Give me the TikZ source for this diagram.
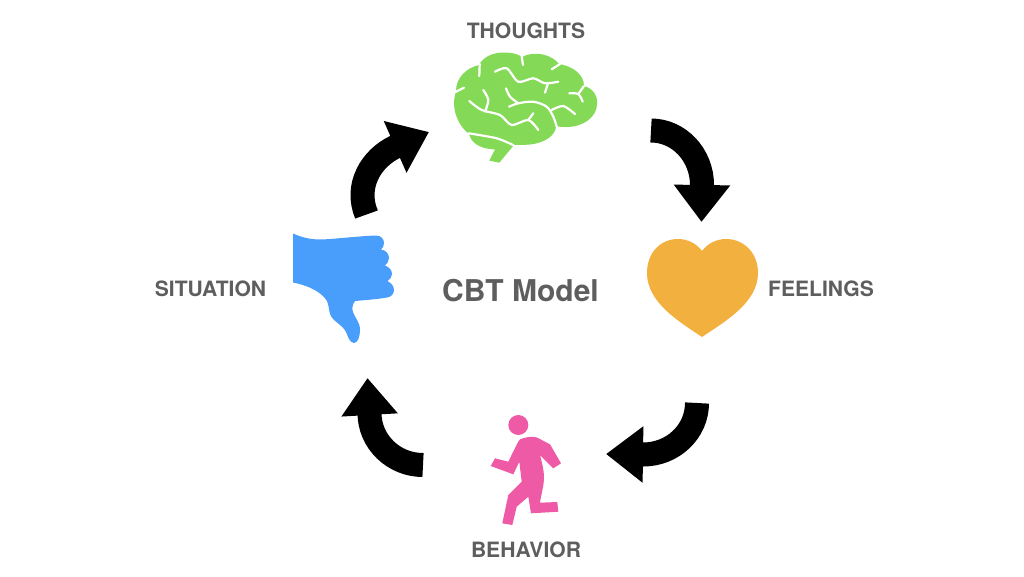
\documentclass[tikz,border=0pt]{standalone}
\usepackage{fontspec}
\setmainfont{TeX Gyre Heros}
\usepackage{xcolor}
\usepackage{tikz}
\usetikzlibrary{arrows.meta}
\definecolor{brainc}{HTML}{84D957}
\definecolor{thumbc}{HTML}{4A9EFB}
\definecolor{heartc}{HTML}{F2B13E}
\definecolor{runnerc}{HTML}{EE5AA5}
\definecolor{labelc}{HTML}{5E5E5E}

\begin{document}
\begin{tikzpicture}[
  x=1pt, y=-1pt,
  lbl/.style={font=\fontsize{21.1}{25}\selectfont\bfseries, text=labelc, inner sep=0pt},
  title/.style={font=\fontsize{30}{36}\selectfont\bfseries, text=labelc, inner sep=0pt},
  flow/.style={draw=black, line width=24pt, -{Triangle[length=37pt,width=54pt]}},
  fold/.style={draw=white, line width=2.2pt, line cap=round, line join=round}
]
\useasboundingbox (0,0) rectangle (1024,576);

%% Labels
\node[lbl] (thoughts) at (526,30.5) {THOUGHTS};
\node[lbl] (feelings) at (821,288.5) {FEELINGS};
\node[lbl] (behavior) at (526,549.5) {BEHAVIOR};
\node[lbl] (situation) at (210.5,288.5) {SITUATION};
\node[title] (model) at (520.5,290.5) {CBT Model};

%% Brain
\fill[brainc] (469,134) .. controls (461,128) and (454,116) .. (454,103)
  .. controls (454,99) and (455,95) .. (456,91)
  .. controls (456,78) and (466,68) .. (479,65)
  .. controls (483,57) and (493,52.5) .. (503,52.5)
  .. controls (512,52.5) and (518,54) .. (522,57)
  .. controls (528,53.5) and (536,53) .. (543,54.5)
  .. controls (550,56) and (556,60) .. (559,64)
  .. controls (572,66) and (584,74) .. (584,86)
  .. controls (592,88) and (598,95) .. (597,104)
  .. controls (597,117) and (583,127) .. (567,127)
  .. controls (563,127) and (559,127) .. (556,126)
  .. controls (556,135) and (545,143) .. (530,144.5)
  .. controls (524,145) and (519,145) .. (514,145)
  -- (499.3,162.7) -- (489.3,160.7) -- (495,149.5)
  .. controls (485,149) and (472,146) .. (469,134) -- cycle;
\draw[fold] (479.7,64) -- (479.3,76);
\draw[fold] (521.7,56) -- (523,65);
\draw[fold] (455,92.2) -- (464,87.7);
\draw[fold] plot[smooth] coordinates {(495,71.7) (506.7,68.3) (518.3,81.7) (533.3,78.3) (545,83.3) (558.3,81.7)};
\draw[fold] (545,92.7) -- (548,83.3);
\draw[fold] (551.7,69.3) -- (560,64);
\draw[fold] plot[smooth] coordinates {(506,88.3) (510,96.7) (518.3,103.3)};
\draw[fold] plot[smooth] coordinates {(509,106.7) (518.3,103.3) (533.3,101.7) (546.7,106.7) (553.3,116.7) (556.7,126.7)};
\draw[fold] plot[smooth] coordinates {(551.7,110) (563.3,106) (575,114)};
\draw[fold] plot[smooth] coordinates {(569.3,93.3) (578.3,94) (582.7,101.7)};
\draw[fold] (578.3,94) -- (584,86);
\draw[fold] plot[smooth] coordinates {(483.3,90) (488.3,100) (485,111.7)};
\draw[fold] plot[smooth] coordinates {(469.3,101) (481.7,110) (500,115) (511.7,125) (528.3,120) (538.3,130)};
\draw[fold] (528.3,120) -- (533.3,113.3);
\draw[fold] plot[smooth] coordinates {(468.5,133.3) (496.7,138.3) (514,145.5)};

%% Heart
\fill[heartc] (702,337) .. controls (680,322) and (647,303) .. (647,273)
  .. controls (647,253) and (660,239) .. (678,239)
  .. controls (688,239) and (697,244) .. (702,251)
  .. controls (707,244) and (716,239) .. (726,239)
  .. controls (744,239) and (758,253) .. (758,273)
  .. controls (758,303) and (724,322) .. (702,337) -- cycle;

%% Runner
\fill[runnerc] (518.3,425) circle[radius=10];
\fill[runnerc] (495,458.3) -- (508.3,461.7) -- (518,442)
  .. controls (519,439.5) and (521,438.3) .. (524,438)
  .. controls (529,436.5) and (533,436.5) .. (537,437.5)
  -- (550,444.3) -- (561,463.3) -- (553.3,468.3) -- (540,455)
  .. controls (542,463) and (544,470) .. (544,477)
  .. controls (544,486) and (541,495) .. (540,502.7)
  -- (557.3,502) -- (558.3,511.7) -- (531,513.3) -- (528.3,496.7) -- (516.7,506.7)
  -- (512.3,525) -- (502.3,523.3) -- (508.3,495) -- (521.7,481.7) -- (519.3,461.7)
  -- (513.3,474.3) -- (490.7,466) -- cycle;

%% Thumb
\fill[thumbc] (293,233.5) .. controls (301,237) and (309,239.5) .. (321,239.5)
  .. controls (335,239) and (360,236) .. (376,235.5)
  .. controls (381,235.5) and (384,239) .. (384,243)
  .. controls (384,245.5) and (383,248) .. (381,249.5)
  .. controls (386,250) and (389,254) .. (389,258)
  .. controls (389,261) and (387,264) .. (385,265.5)
  .. controls (389,267) and (392,270) .. (392,274)
  .. controls (392,277) and (390,279.5) .. (387.5,281)
  .. controls (391,283) and (394,286) .. (394,290)
  .. controls (394,294) and (391,297) .. (387,297.5)
  .. controls (376,299.5) and (365,300) .. (355,301)
  .. controls (352,305) and (352,309) .. (353,312)
  .. controls (355,318) and (360,322) .. (360,330)
  .. controls (360,336) and (358,343) .. (354,343)
  .. controls (350,343) and (348,337) .. (346,332)
  .. controls (342,324) and (333,322) .. (330,314)
  .. controls (328,306) and (329,302) .. (324,297)
  .. controls (316,289) and (305,285) .. (293,282.5) -- cycle;

%% Arrow ends
\coordinate (brainout) at (651,130.5);
\coordinate (heartin) at (702,185);
\coordinate (hearttip) at (701.5,222);
\coordinate (heartout) at (697,403);
\coordinate (runnerin) at (643,454.5);
\coordinate (runnertip) at (606,454);
\coordinate (runnerout) at (423,465);
\coordinate (thumbin) at (369.5,413);
\coordinate (thumbtip) at (367.5,378);
\coordinate (thumbout) at (366.5,214.5);
\coordinate (brainin) at (396,146.5);
\coordinate (braintip) at (429,132);

%% Cycle arrows
\draw[flow] (brainout) .. controls (679,130.5) and (702,155) .. (heartin) -- (hearttip);
\draw[flow] (heartout) .. controls (697,431.5) and (673,454.5) .. (runnerin) -- (runnertip);
\draw[flow] (runnerout) .. controls (393.5,465) and (369.5,441.6) .. (thumbin) -- (thumbtip);
\draw[flow] (thumbout) .. controls (354.5,186) and (371,158) .. (brainin) -- (braintip);
\end{tikzpicture}
\end{document}
